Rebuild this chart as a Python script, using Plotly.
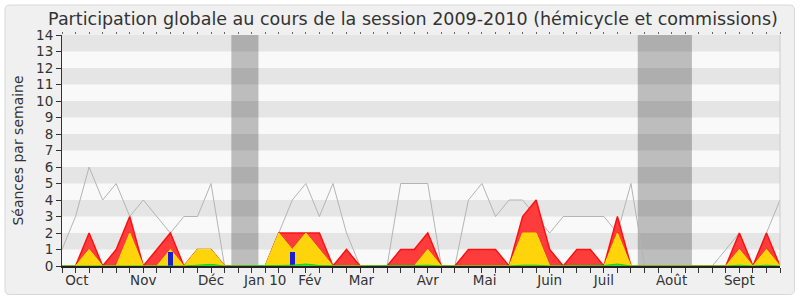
import plotly.graph_objects as go

# ---------------- data ----------------
weeks = list(range(54))
total_seances = [1, 3, 6, 4, 5, 3, 4, 3, 2, 3, 3, 5, 0, 0, 0, 0, 2, 4, 5, 3,
                 5, 2, 0, 0, 0, 5, 5, 5, 0, 0, 4, 5, 3, 4, 4, 3, 2, 3, 3, 3,
                 3, 2, 5, 0, 0, 0, 0, 0, 0, 1, 2, 0, 2, 4]
commission = [0, 0, 2, 0, 1, 3, 0, 1, 2, 0, 1, 1, 0, 0, 0, 0, 2, 2, 2, 2,
              0, 1, 0, 0, 0, 1, 1, 2, 0, 0, 1, 1, 1, 0, 3, 4, 1, 0, 1, 1,
              0, 3, 0, 0, 0, 0, 0, 0, 0, 0, 2, 0, 2, 0]
hemicycle = [0, 0, 1, 0, 0, 2, 0, 0, 1, 0, 1, 1, 0, 0, 0, 0, 2, 1, 2, 1,
             0, 0, 0, 0, 0, 0, 0, 1, 0, 0, 0, 0, 0, 0, 2, 2, 0, 0, 0, 0,
             0, 2, 0, 0, 0, 0, 0, 0, 0, 0, 1, 0, 1, 0]
interventions = [0, 0, 0.03, 0, 0, 0.03, 0, 0, 0.03, 0, 0.05, 0.1, 0, 0, 0, 0, 0.03, 0.05, 0.12, 0.03,
                 0, 0, 0, 0, 0, 0, 0.03, 0.05, 0, 0, 0, 0, 0, 0, 0.05, 0.05, 0, 0, 0, 0,
                 0.03, 0.12, 0, 0, 0, 0, 0, 0, 0, 0, 0.05, 0, 0.05, 0]
questions = [0, 0, 0, 0, 0, 0, 0, 0, 0.85, 0, 0, 0, 0, 0, 0, 0, 0, 0.85, 0, 0,
             0, 0, 0, 0, 0, 0, 0, 0, 0, 0, 0, 0, 0, 0, 0, 0, 0, 0, 0, 0,
             0, 0, 0, 0, 0, 0, 0, 0, 0, 0, 0, 0, 0, 0]
month_labels = ["Oct", "Nov", "Déc", "Jan 10", "Fév", "Mar", "Avr", "Mai",
                "Juin", "Juil", "Août", "Sept"]
month_pos = [1.1, 6, 11, 15, 18.3, 22.1, 27, 31.2, 36, 40, 45, 50]
vacations = [(12.5, 14.5), (42.5, 46.5)]
y_ticks = list(range(15))

TITLE = "Participation globale au cours de la session 2009-2010 (hémicycle et commissions)"
FONT = "DejaVu Sans"

# ---------------- figure ----------------
W, H = 800, 300
ML, MR, MT, MB = 62, 20, 35, 34
PW, PH = W - ML - MR, H - MT - MB

fig = go.Figure()

fig.add_trace(go.Scatter(x=weeks, y=total_seances, mode="lines",
                         line=dict(color="#b4b4b4", width=1), hoverinfo="skip",
                         showlegend=False))
fig.add_trace(go.Scatter(x=weeks, y=commission, mode="lines", fill="tozeroy",
                         fillcolor="#ff3c3c", line=dict(color="#ff1010", width=1.5),
                         showlegend=False))
fig.add_trace(go.Scatter(x=weeks, y=hemicycle, mode="lines", fill="tozeroy",
                         fillcolor="#ffd40a", line=dict(color="#f2e600", width=1),
                         showlegend=False))
# questions drawn on an overlaying axis so they sit above the filled areas
fig.add_trace(go.Bar(x=weeks, y=questions, width=0.37, xaxis="x2",
                     marker=dict(color="#1e1ecc", line=dict(width=0)),
                     showlegend=False))
fig.add_trace(go.Scatter(x=weeks, y=interventions, mode="lines", fill="tozeroy", xaxis="x3",
                         fillcolor="#33dd33", line=dict(color="#22cc22", width=1),
                         showlegend=False))


def px_to_paper(x, y):
    return (x - ML) / PW, (H - MB - y) / PH


def rounded_rect(x0, y0, x1, y1, r):
    def p(x, y):
        a, b = px_to_paper(x, y)
        return f"{a:.5f},{b:.5f}"
    return (f"M {p(x0 + r, y0)} L {p(x1 - r, y0)} Q {p(x1, y0)} {p(x1, y0 + r)} "
            f"L {p(x1, y1 - r)} Q {p(x1, y1)} {p(x1 - r, y1)} L {p(x0 + r, y1)} "
            f"Q {p(x0, y1)} {p(x0, y1 - r)} L {p(x0, y0 + r)} Q {p(x0, y0)} {p(x0 + r, y0)} Z")


shapes = []
shapes.append(dict(type="path", xref="paper", yref="paper", layer="below",
                   path=rounded_rect(5, 5, 794.5, 294.5, 5),
                   fillcolor="#f0f0f0", line=dict(color="#d8d8d8", width=1)))
shapes.append(dict(type="rect", xref="x", yref="y", layer="below",
                   x0=weeks[0], x1=weeks[-1], y0=y_ticks[0], y1=y_ticks[-1],
                   fillcolor="#f9f9f9", line=dict(width=0)))
for v in y_ticks[1:-1:2]:
    shapes.append(dict(type="rect", xref="x", yref="y", layer="below",
                       x0=weeks[0], x1=weeks[-1], y0=v, y1=v + 1,
                       fillcolor="#e5e5e5", line=dict(width=0)))
for a, b in vacations:
    shapes.append(dict(type="rect", xref="x", yref="y", layer="below",
                       x0=a, x1=b, y0=y_ticks[0], y1=y_ticks[-1],
                       fillcolor="rgba(0,0,0,0.24)", line=dict(width=0)))
shapes.append(dict(type="line", xref="paper", yref="paper", x0=1, x1=1, y0=0, y1=1,
                   line=dict(color="#cccccc", width=1)))

fig.update_layout(
    width=W, height=H, autosize=False,
    margin=dict(l=ML, r=MR, t=MT, b=MB, pad=0, autoexpand=False),
    paper_bgcolor="white", plot_bgcolor="rgba(0,0,0,0)",
    font=dict(family=FONT, color="#333333", size=13),
    title=dict(text=TITLE, x=413 / W, xanchor="center", y=1 - 19 / H, yanchor="middle",
               font=dict(family=FONT, size=17.5, color="#333333")),
    shapes=shapes,
    bargap=0,
    xaxis=dict(range=[weeks[0], weeks[-1]], tickvals=weeks, showticklabels=False,
               ticks="outside", ticklen=5, tickcolor="#333333", tickwidth=1,
               showline=True, linecolor="#222222", linewidth=1.5, automargin=False,
               showgrid=False, zeroline=False, fixedrange=True),
    xaxis2=dict(overlaying="x", anchor="y", side="bottom", automargin=False,
                range=[weeks[0], weeks[-1]], tickvals=month_pos, ticktext=month_labels,
                ticks="outside", ticklen=2, tickcolor="rgba(0,0,0,0)",
                showline=False, showgrid=False, zeroline=False,
                tickfont=dict(family=FONT, size=13.5, color="#333333")),
    xaxis3=dict(overlaying="x", anchor="y", side="top", automargin=False,
                range=[weeks[0], weeks[-1]], tickvals=weeks, showticklabels=False,
                ticks="outside", ticklen=2, tickcolor="#666666",
                showline=False, showgrid=False, zeroline=False),
    yaxis=dict(range=[y_ticks[0], y_ticks[-1]], tickvals=y_ticks, automargin=False,
               ticks="outside", ticklen=5, tickcolor="#333333",
               showline=True, linecolor="#333333", linewidth=1,
               showgrid=False, zeroline=False,
               tickfont=dict(family=FONT, size=13.5, color="#333333"),
               title=dict(text="Séances par semaine", standoff=9,
                          font=dict(family=FONT, size=14, color="#333333"))),
)

fig.write_html("out.html")
